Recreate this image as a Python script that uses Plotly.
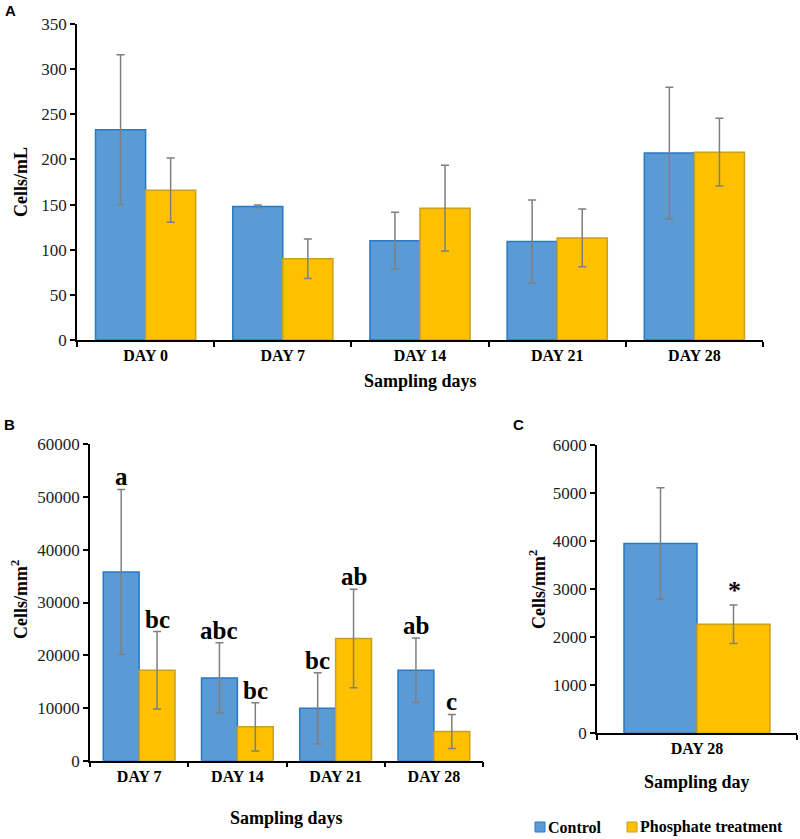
import plotly.graph_objects as go

W, H = 800, 839

# ---------------- data ----------------
days_a = ["DAY 0", "DAY 7", "DAY 14", "DAY 21", "DAY 28"]
ctrl_a = [233, 148, 110, 109, 207]
ctrl_a_sd = [83, 1.5, 31.5, 46, 73]
phos_a = [166, 90, 146, 113, 208]
phos_a_sd = [35.5, 22, 47.5, 32, 37.5]

days_b = ["DAY 7", "DAY 14", "DAY 21", "DAY 28"]
ctrl_b = [35800, 15700, 9940, 17150]
ctrl_b_sd = [15650, 6665, 6760, 6135]
phos_b = [17150, 6420, 23170, 5550]
phos_b_sd = [7330, 4580, 9325, 3225]
ctrl_b_letters = ["a", "abc", "bc", "ab"]
phos_b_letters = ["bc", "bc", "ab", "c"]

days_c = ["DAY 28"]
ctrl_c = [3950]
ctrl_c_sd = [1162]
phos_c = [2270]
phos_c_sd = [400]
phos_c_mark = ["*"]

series_names = ["Control", "Phosphate treatment"]

# ---------------- style ----------------
BLUE = "#5B9BD5"
BLUE_EDGE = "#2A78C8"
GOLD = "#FFC000"
GOLD_EDGE = "#C9A020"
ERR = "#7F7F7F"
SERIF = "Liberation Serif, Times New Roman, serif"
SANS = "Liberation Sans, Arial, sans-serif"


def px_x(p):
    return p / W


def px_y(p):
    return 1 - p / H


fig = go.Figure()


def add_pair(x, c, csd, p, psd, xa, ya):
    fig.add_trace(go.Bar(
        x=x, y=c, name=series_names[0], xaxis=xa, yaxis=ya,
        marker=dict(color=BLUE, line=dict(color=BLUE_EDGE, width=1.5)),
        error_y=dict(type="data", array=csd, color=ERR, thickness=1.5, width=4),
        offsetgroup="c", legendgroup="c", showlegend=False,
    ))
    fig.add_trace(go.Bar(
        x=x, y=p, name=series_names[1], xaxis=xa, yaxis=ya,
        marker=dict(color=GOLD, line=dict(color=GOLD_EDGE, width=1.5)),
        error_y=dict(type="data", array=psd, color=ERR, thickness=1.5, width=4),
        offsetgroup="p", legendgroup="p", showlegend=False,
    ))


add_pair(days_a, ctrl_a, ctrl_a_sd, phos_a, phos_a_sd, "x", "y")
add_pair(days_b, ctrl_b, ctrl_b_sd, phos_b, phos_b_sd, "x2", "y2")
add_pair(days_c, ctrl_c, ctrl_c_sd, phos_c, phos_c_sd, "x3", "y3")

xcommon = dict(
    type="category", showline=True, linecolor="black", linewidth=1.5,
    ticks="outside", tickson="boundaries", ticklen=5, tickcolor="black",
    tickwidth=1.5, showgrid=False, zeroline=False, automargin=False,
    tickfont=dict(family=SERIF, size=16, color="black", weight="bold"),
)
ycommon = dict(
    showline=True, linecolor="black", linewidth=1.5, ticks="outside",
    ticklen=5, tickcolor="black", tickwidth=1.5, showgrid=False,
    zeroline=False, automargin=False, tickformat="d",
    tickfont=dict(family=SERIF, size=17, color="#222"),
)

fig.update_layout(
    width=W, height=H, margin=dict(l=0, r=0, t=0, b=0, autoexpand=False),
    paper_bgcolor="white", plot_bgcolor="white", showlegend=False,
    barmode="group", bargap=0.27, bargroupgap=0,
    xaxis=dict(domain=[px_x(77), px_x(763)], anchor="y", **xcommon),
    yaxis=dict(domain=[px_y(340), px_y(24)], anchor="x", range=[0, 350],
               dtick=50, **ycommon),
    xaxis2=dict(domain=[px_x(90), px_x(483)], anchor="y2", **xcommon),
    yaxis2=dict(domain=[px_y(760.7), px_y(444.3)], anchor="x2",
                range=[0, 60000], dtick=10000, **ycommon),
    xaxis3=dict(domain=[px_x(597), px_x(797)], anchor="y3", **xcommon),
    yaxis3=dict(domain=[px_y(733.3), px_y(445)], anchor="x3",
                range=[0, 6000], dtick=1000, **ycommon),
)

ann = []


def txt(x, y, s, size, family=SERIF, angle=0, bold=True, xanchor="center"):
    ann.append(dict(x=px_x(x), y=px_y(y), xref="paper", yref="paper",
                    text=f"<b>{s}</b>" if bold else s, showarrow=False,
                    textangle=angle, xanchor=xanchor, yanchor="middle",
                    font=dict(family=family, size=size, color="black")))


# panel letters
txt(10, 11, "A", 15, SANS)
txt(9, 424, "B", 15, SANS)
txt(518, 424, "C", 15, SANS)
# axis titles
txt(21, 182, "Cells/mL", 18, angle=-90)
txt(420, 381, "Sampling days", 18)
txt(19, 600, "Cells/mm<sup>2</sup>", 18, angle=-90)
txt(286, 818, "Sampling days", 18)
txt(537, 590, "Cells/mm<sup>2</sup>", 18, angle=-90)
txt(697, 782, "Sampling day", 18)

# manual legend
shapes = []
for (x0, col, edge, name) in [(535, BLUE, BLUE_EDGE, series_names[0]),
                              (627, GOLD, GOLD_EDGE, series_names[1])]:
    shapes.append(dict(type="rect", xref="paper", yref="paper",
                       x0=px_x(x0), x1=px_x(x0 + 10), y0=px_y(832), y1=px_y(822),
                       fillcolor=col, line=dict(color=edge, width=1)))
    txt(x0 + 11, 827, name, 16, xanchor="left")

# significance letters in B
for i, d in enumerate(days_b):
    ann.append(dict(x=d, y=ctrl_b[i] + ctrl_b_sd[i], xref="x2", yref="y2",
                    text=f"<b>{ctrl_b_letters[i]}</b>", showarrow=False,
                    xanchor="center", yanchor="bottom", xshift=-18, yshift=-3,
                    font=dict(family=SERIF, size=25, color="black")))
    ann.append(dict(x=d, y=phos_b[i] + phos_b_sd[i], xref="x2", yref="y2",
                    text=f"<b>{phos_b_letters[i]}</b>", showarrow=False,
                    xanchor="center", yanchor="bottom", xshift=18, yshift=-3,
                    font=dict(family=SERIF, size=25, color="black")))
# asterisk in C
ann.append(dict(x=days_c[0], y=phos_c[0] + phos_c_sd[0], xref="x3", yref="y3",
                text=f"<b>{phos_c_mark[0]}</b>", showarrow=False,
                xanchor="center", yanchor="bottom", xshift=37, yshift=-2,
                font=dict(family=SERIF, size=26, color="black")))

fig.update_layout(annotations=ann, shapes=shapes)
fig.write_html("out.html", config={"displayModeBar": False},
               post_script="document.body.style.margin='0';"
                           "document.body.style.overflow='hidden';")
